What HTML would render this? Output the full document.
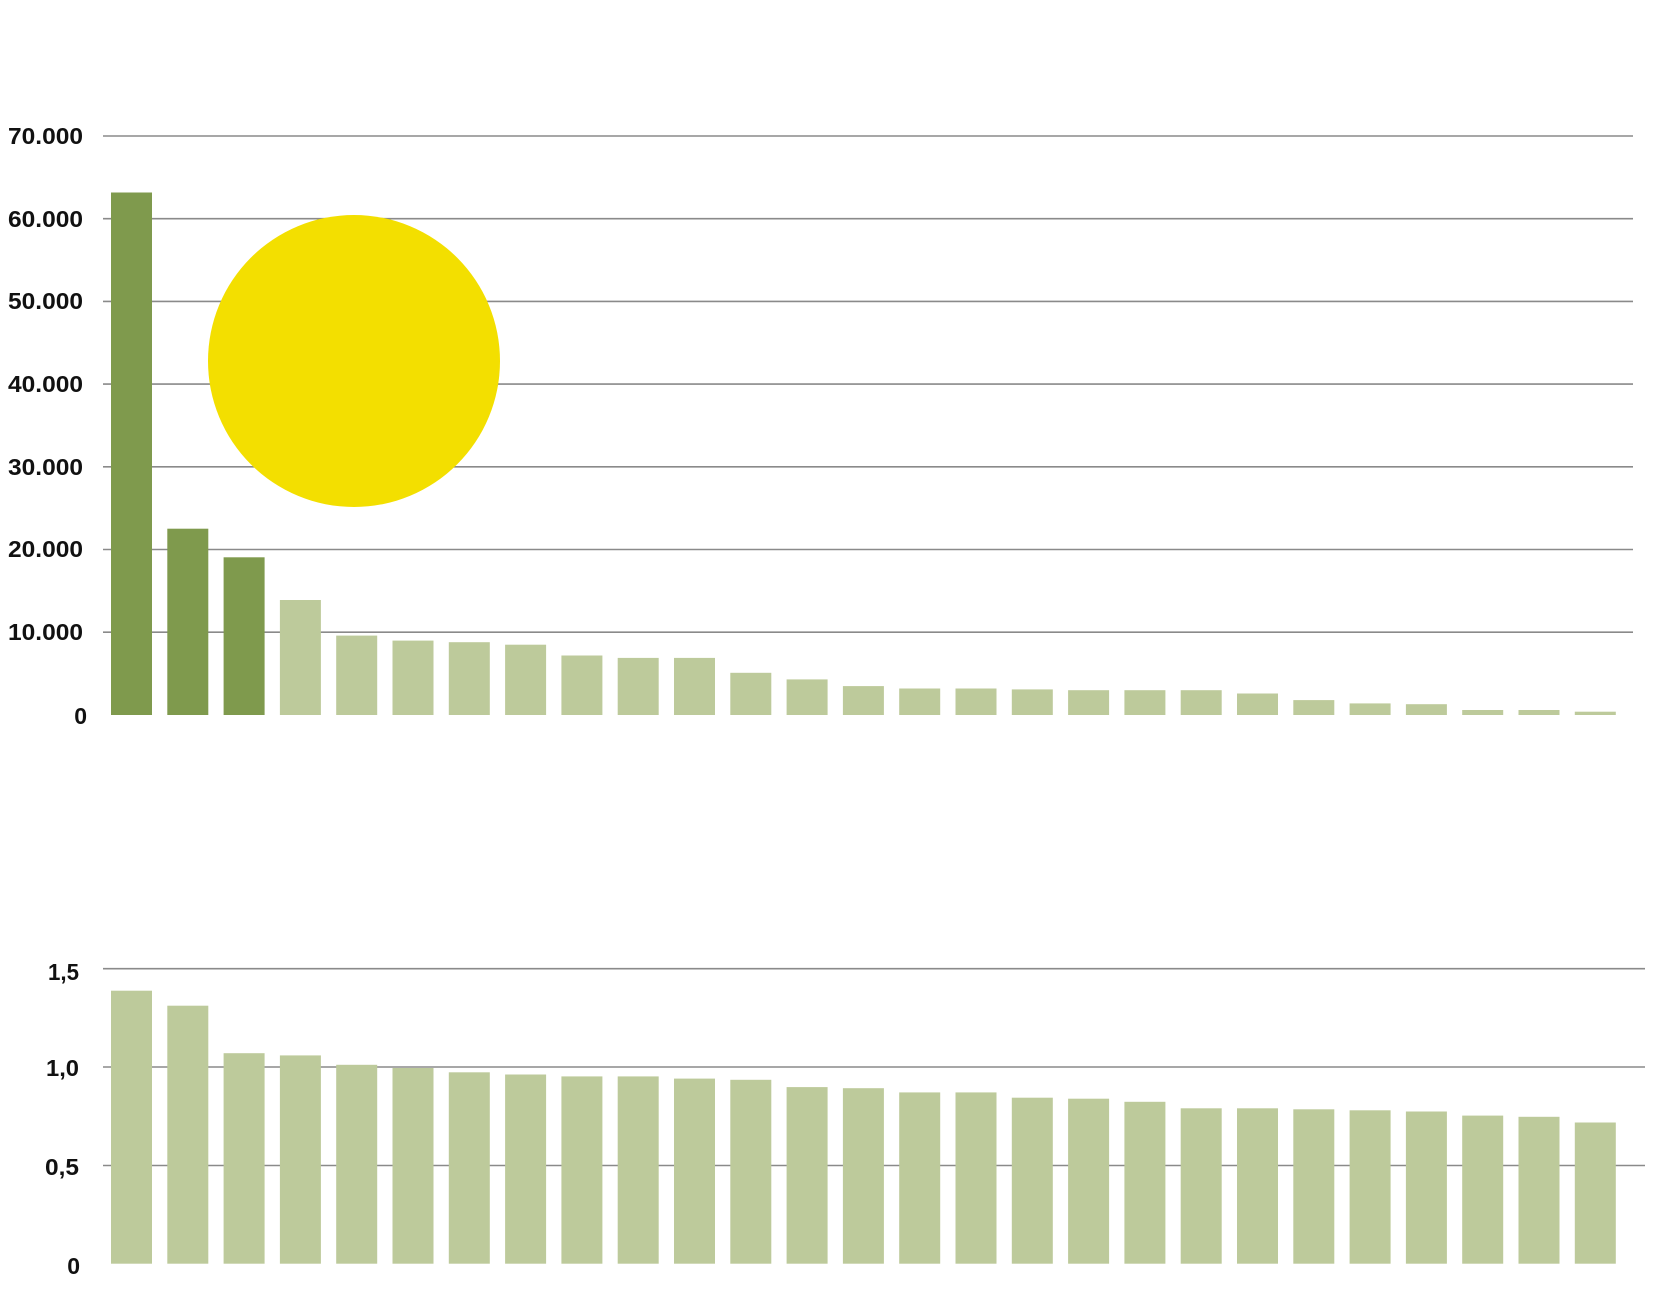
<!DOCTYPE html>
<html><head><meta charset="utf-8"><style>
html,body{margin:0;padding:0;background:#fff;}
svg{display:block;}
text{font-family:"Liberation Sans",sans-serif;font-weight:bold;fill:#111;font-size:23px;}
</style></head><body>
<svg width="1660" height="1316" viewBox="0 0 1660 1316" xmlns="http://www.w3.org/2000/svg">
<g stroke="#8a8a8a" stroke-width="1.6">
<line x1="103" x2="1633" y1="136" y2="136"/>
<line x1="103" x2="1633" y1="218.7" y2="218.7"/>
<line x1="103" x2="1633" y1="301.4" y2="301.4"/>
<line x1="103" x2="1633" y1="384.1" y2="384.1"/>
<line x1="103" x2="1633" y1="466.8" y2="466.8"/>
<line x1="103" x2="1633" y1="549.5" y2="549.5"/>
<line x1="103" x2="1633" y1="632.2" y2="632.2"/>
<line x1="103" x2="1645" y1="968.7" y2="968.7"/>
<line x1="103" x2="1645" y1="1067" y2="1067"/>
<line x1="103" x2="1645" y1="1165.5" y2="1165.5"/>
</g>
<g text-anchor="end">
<text x="83" y="144" textLength="75" lengthAdjust="spacingAndGlyphs">70.000</text>
<text x="83" y="227" textLength="75" lengthAdjust="spacingAndGlyphs">60.000</text>
<text x="83" y="309" textLength="75" lengthAdjust="spacingAndGlyphs">50.000</text>
<text x="83" y="392" textLength="75" lengthAdjust="spacingAndGlyphs">40.000</text>
<text x="83" y="475" textLength="75" lengthAdjust="spacingAndGlyphs">30.000</text>
<text x="83" y="557" textLength="75" lengthAdjust="spacingAndGlyphs">20.000</text>
<text x="83" y="640" textLength="75" lengthAdjust="spacingAndGlyphs">10.000</text>
<text x="87" y="724">0</text>
<text x="79" y="980" textLength="31" lengthAdjust="spacingAndGlyphs">1,5</text>
<text x="79" y="1076" textLength="33" lengthAdjust="spacingAndGlyphs">1,0</text>
<text x="79" y="1175" textLength="34" lengthAdjust="spacingAndGlyphs">0,5</text>
<text x="80" y="1274">0</text>
</g>
<g fill="#7f9a4d">
<rect x="111" y="192.5" width="41" height="522.5"/>
<rect x="167.3" y="528.7" width="41" height="186.3"/>
<rect x="223.6" y="557.3" width="41" height="157.7"/>
</g>
<g fill="#bdca9b">
<rect x="279.9" y="600" width="41" height="115"/>
<rect x="336.2" y="635.6" width="41" height="79.4"/>
<rect x="392.5" y="640.6" width="41" height="74.4"/>
<rect x="448.8" y="642.2" width="41" height="72.8"/>
<rect x="505.1" y="644.7" width="41" height="70.3"/>
<rect x="561.4" y="655.5" width="41" height="59.5"/>
<rect x="617.7" y="657.9" width="41" height="57.1"/>
<rect x="674" y="657.9" width="41" height="57.1"/>
<rect x="730.3" y="672.8" width="41" height="42.2"/>
<rect x="786.6" y="679.4" width="41" height="35.6"/>
<rect x="842.9" y="686.1" width="41" height="28.9"/>
<rect x="899.2" y="688.5" width="41" height="26.5"/>
<rect x="955.5" y="688.5" width="41" height="26.5"/>
<rect x="1011.8" y="689.4" width="41" height="25.6"/>
<rect x="1068.1" y="690.2" width="41" height="24.8"/>
<rect x="1124.4" y="690.2" width="41" height="24.8"/>
<rect x="1180.7" y="690.2" width="41" height="24.8"/>
<rect x="1237" y="693.5" width="41" height="21.5"/>
<rect x="1293.3" y="700.1" width="41" height="14.9"/>
<rect x="1349.6" y="703.4" width="41" height="11.6"/>
<rect x="1405.9" y="704.2" width="41" height="10.8"/>
<rect x="1462.2" y="710" width="41" height="5"/>
<rect x="1518.5" y="710" width="41" height="5"/>
<rect x="1574.8" y="711.7" width="41" height="3.3"/>
<rect x="111" y="990.7" width="41" height="273"/>
<rect x="167.3" y="1005.7" width="41" height="258"/>
<rect x="223.6" y="1053.2" width="41" height="210.5"/>
<rect x="279.9" y="1055.4" width="41" height="208.3"/>
<rect x="336.2" y="1064.8" width="41" height="198.9"/>
<rect x="392.5" y="1068" width="41" height="195.7"/>
<rect x="448.8" y="1072.3" width="41" height="191.4"/>
<rect x="505.1" y="1074.5" width="41" height="189.2"/>
<rect x="561.4" y="1076.4" width="41" height="187.3"/>
<rect x="617.7" y="1076.4" width="41" height="187.3"/>
<rect x="674" y="1078.6" width="41" height="185.1"/>
<rect x="730.3" y="1079.8" width="41" height="183.9"/>
<rect x="786.6" y="1087.1" width="41" height="176.6"/>
<rect x="842.9" y="1088.2" width="41" height="175.5"/>
<rect x="899.2" y="1092.4" width="41" height="171.3"/>
<rect x="955.5" y="1092.4" width="41" height="171.3"/>
<rect x="1011.8" y="1097.7" width="41" height="166"/>
<rect x="1068.1" y="1098.7" width="41" height="165"/>
<rect x="1124.4" y="1101.8" width="41" height="161.9"/>
<rect x="1180.7" y="1108.3" width="41" height="155.4"/>
<rect x="1237" y="1108.3" width="41" height="155.4"/>
<rect x="1293.3" y="1109.3" width="41" height="154.4"/>
<rect x="1349.6" y="1110.3" width="41" height="153.4"/>
<rect x="1405.9" y="1111.5" width="41" height="152.2"/>
<rect x="1462.2" y="1115.6" width="41" height="148.1"/>
<rect x="1518.5" y="1116.8" width="41" height="146.9"/>
<rect x="1574.8" y="1122.5" width="41" height="141.2"/>
</g>
<circle cx="354" cy="361" r="146" fill="#f3df00"/>
</svg>
</body></html>
